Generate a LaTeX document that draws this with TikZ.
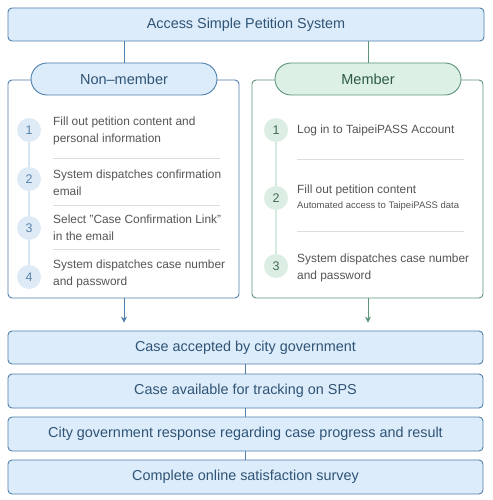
\documentclass[tikz,border=0pt]{standalone}
\usepackage{fontspec}
\setmainfont{Liberation Sans}
\usetikzlibrary{arrows.meta}
\begin{document}
\begin{tikzpicture}[x=1pt,y=-1pt,
  blueline/.style={draw=bborder,line width=0.9pt},
  bluebox/.style={draw=bborder,fill=bfill,line width=0.9pt,rounded corners=4pt,inner sep=0pt,text=btext,font=\fontsize{14.4}{16}\selectfont},
  bluepill/.style={draw=bborder,fill=bfill,line width=0.9pt,rounded corners=16pt,inner sep=0pt,text=btext,font=\fontsize{14.5}{16}\selectfont,minimum width=186pt,minimum height=32pt},
  greenpill/.style={draw=gborder,fill=gfill,line width=0.9pt,rounded corners=16pt,inner sep=0pt,text=gtext,font=\fontsize{14.5}{16}\selectfont,minimum width=186pt,minimum height=32pt},
  bluepanel/.style={draw=bborder,fill=white,line width=0.9pt,rounded corners=4pt,inner sep=0pt,minimum width=231pt,minimum height=218pt},
  greenpanel/.style={draw=gborder,fill=white,line width=0.9pt,rounded corners=4pt,inner sep=0pt,minimum width=231pt,minimum height=218pt},
  bcirc/.style={circle,fill=bcfill,minimum size=24pt,inner sep=0pt,text=bdigit,font=\fontsize{12.5}{14}\selectfont},
  gcirc/.style={circle,fill=gcfill,minimum size=24pt,inner sep=0pt,text=gdigit,font=\fontsize{12.5}{14}\selectfont},
  steptext/.style={anchor=west,inner sep=0pt,align=left,text=stext,font=\fontsize{11.9}{17}\selectfont},
  sep/.style={draw=sepcol,line width=0.8pt},
  bvline/.style={draw=bvcol,line width=1.6pt},
  gvline/.style={draw=gvcol,line width=1.6pt}
]
\definecolor{bfill}{HTML}{DDECFA}
\definecolor{bborder}{HTML}{4F7FAA}
\definecolor{btext}{HTML}{2F5476}
\definecolor{gfill}{HTML}{DCF0E5}
\definecolor{gborder}{HTML}{5E9479}
\definecolor{gtext}{HTML}{2D5A45}
\definecolor{stext}{HTML}{555555}
\definecolor{sepcol}{HTML}{DDDDDD}
\definecolor{bcfill}{HTML}{DEEBF7}
\definecolor{bdigit}{HTML}{5A84AC}
\definecolor{bvcol}{HTML}{D8E7F4}
\definecolor{gcfill}{HTML}{DCEEE3}
\definecolor{gdigit}{HTML}{3E6A55}
\definecolor{gvcol}{HTML}{D6EBDF}
\useasboundingbox[fill=white] (0,0) rectangle (492,500);

% top
\node[bluebox,minimum width=476pt,minimum height=33pt] (top) at (246,24.5) {Access Simple Petition System};

% panels
\node[bluepanel] (nmp) at (123.5,189) {};
\node[greenpanel] (mp) at (367.5,189) {};

\node[bluepill] (nm) at (124,79) {Non–member};
\node[greenpill] (m) at (368,79) {Member};

\draw[blueline] (top.south -| nm.north) -- (nm.north);
\draw[draw=gborder,line width=0.9pt] (top.south -| m.north) -- (m.north);

% non-member steps
\coordinate (nc1) at (29,130);
\coordinate (nc4) at (29,277);
\draw[bvline] (nc1) -- (nc4);
\node[bcirc] (n1) at (29,130) {1};
\node[bcirc] (n2) at (29,179) {2};
\node[bcirc] (n3) at (29,228) {3};
\node[bcirc] (n4) at (29,277) {4};
\node[steptext] (nt1) at (53,131) {Fill out petition content and\\personal information};
\node[steptext] (nt2) at (53,183) {System dispatches confirmation\\email};
\node[steptext] (nt3) at (53,228) {Select "Case Confirmation Link"\\in the email};
\node[steptext] (nt4) at (53,273.5) {System dispatches case number\\and password};
\coordinate (ns1a) at (53,158); \coordinate (ns1b) at (220,158);
\coordinate (ns2a) at (53,205); \coordinate (ns2b) at (220,205);
\coordinate (ns3a) at (53,249); \coordinate (ns3b) at (220,249);
\draw[sep] (ns1a) -- (ns1b);
\draw[sep] (ns2a) -- (ns2b);
\draw[sep] (ns3a) -- (ns3b);

% member steps
\coordinate (mc1) at (276,130);
\coordinate (mc3) at (276,266);
\draw[gvline] (mc1) -- (mc3);
\node[gcirc] (m1) at (276,130) {1};
\node[gcirc] (m2) at (276,198) {2};
\node[gcirc] (m3) at (276,266) {3};
\node[steptext] (mt1) at (297,130) {Log in to TaipeiPASS Account};
\node[steptext] (mt2) at (297,198) {Fill out petition content\\[-2pt]{\fontsize{9.5}{12}\selectfont Automated access to TaipeiPASS data}};
\node[steptext] (mt3) at (297,268) {System dispatches case number\\and password};
\coordinate (ms1a) at (297,159); \coordinate (ms1b) at (464,159);
\coordinate (ms2a) at (297,231); \coordinate (ms2b) at (464,231);
\draw[sep] (ms1a) -- (ms1b);
\draw[sep] (ms2a) -- (ms2b);

% bottom boxes
\node[bluebox,minimum width=475pt,minimum height=33pt] (b1) at (245.5,347.5) {Case accepted by city government};
\node[bluebox,minimum width=475pt,minimum height=34pt] (b2) at (245.5,391) {Case available for tracking on SPS};
\node[bluebox,minimum width=475pt,minimum height=34pt] (b3) at (245.5,434) {City government response regarding case progress and result};
\node[bluebox,minimum width=475pt,minimum height=34pt] (b4) at (245.5,477) {Complete online satisfaction survey};

\draw[blueline] (b1) -- (b2);
\draw[blueline] (b2) -- (b3);
\draw[blueline] (b3) -- (b4);

\draw[blueline,-{Stealth[length=6pt,width=6pt]},shorten >=8pt] (nmp.south -| nm.south) -- (nm.south |- b1.north);
\draw[draw=gborder,line width=0.9pt,-{Stealth[length=6pt,width=6pt]},shorten >=8pt] (mp.south -| m.south) -- (m.south |- b1.north);
\end{tikzpicture}
\end{document}
